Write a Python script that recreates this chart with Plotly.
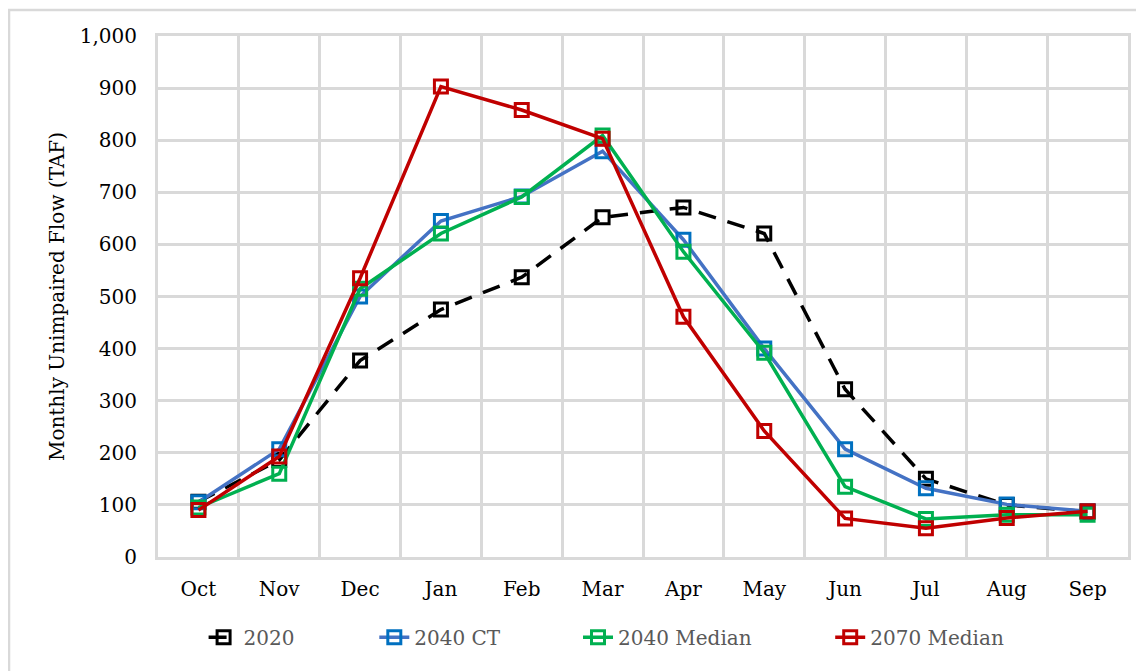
import plotly.graph_objects as go

months = ["Oct", "Nov", "Dec", "Jan", "Feb", "Mar", "Apr", "May", "Jun", "Jul", "Aug", "Sep"]
flow_2020 = [106, 186, 377, 475, 537, 652, 671, 621, 322, 150, 100, 87]
flow_2040_ct = [105, 207, 500, 645, 692, 779, 609, 400, 207, 132, 101, 88]
flow_2040_median = [95, 160, 515, 621, 691, 809, 586, 392, 135, 73, 81, 81]
flow_2070_median = [90, 193, 535, 903, 858, 803, 461, 242, 74, 55, 75, 88]

GRID = "#d9d9d9"
FONT = "DejaVu Serif"

fig = go.Figure()

def add_series(name, y, line_color, marker_color, legend, dash="solid"):
    fig.add_trace(go.Scatter(
        x=months, y=y, name=name, mode="lines+markers", legend=legend,
        line=dict(color=line_color, width=3.5, dash=dash),
        marker=dict(symbol="square-open", size=13, color=marker_color,
                    line=dict(width=3, color=marker_color)),
    ))

add_series("2020", flow_2020, "black", "black", "legend", dash="18px,12px")
add_series("2040 CT", flow_2040_ct, "#4472C4", "#0070C0", "legend2")
add_series("2040 Median", flow_2040_median, "#00B050", "#00B050", "legend3")
add_series("2070 Median", flow_2070_median, "#C00000", "#C00000", "legend4")

# one legend per series so the entries sit where the reference has them
def leg(x):
    return dict(orientation="h", xanchor="left", x=x, yanchor="middle", y=-0.154,
                font=dict(size=20, color="#595959"), bgcolor="rgba(0,0,0,0)")

# page body has an 8px margin, so the figure is a bit smaller than the window
fig.update_layout(
    width=1136, height=663,
    margin=dict(l=150, r=16, t=28, b=114),
    paper_bgcolor="white", plot_bgcolor="white",
    font=dict(family=FONT, size=20, color="black"),
    showlegend=True,
    legend=leg(0.047), legend2=leg(0.223), legend3=leg(0.433), legend4=leg(0.693),
    shapes=[dict(type="rect", xref="paper", yref="paper",
                 x0=-0.1536, x1=1.1, y0=-0.3, y1=1.0499,
                 line=dict(color=GRID, width=2.5), layer="below")],
)

fig.update_xaxes(
    type="category", range=[-0.5, 11.5], tickson="boundaries",
    showgrid=True, gridcolor=GRID, gridwidth=3,
    showline=True, linecolor=GRID, linewidth=3, mirror=True, ticks="",
    ticklabelstandoff=12, tickfont=dict(size=20),
)
fig.update_yaxes(
    range=[0, 1000], dtick=100, tickformat=",d", showgrid=True, gridcolor=GRID, gridwidth=3,
    showline=True, linecolor=GRID, linewidth=3, mirror=True, ticks="", zeroline=False,
    ticklabelstandoff=14, tickfont=dict(size=20),
    title=dict(text="Monthly Unimpaired Flow (TAF)", font=dict(size=20), standoff=10),
)

fig.write_html("out.html")
